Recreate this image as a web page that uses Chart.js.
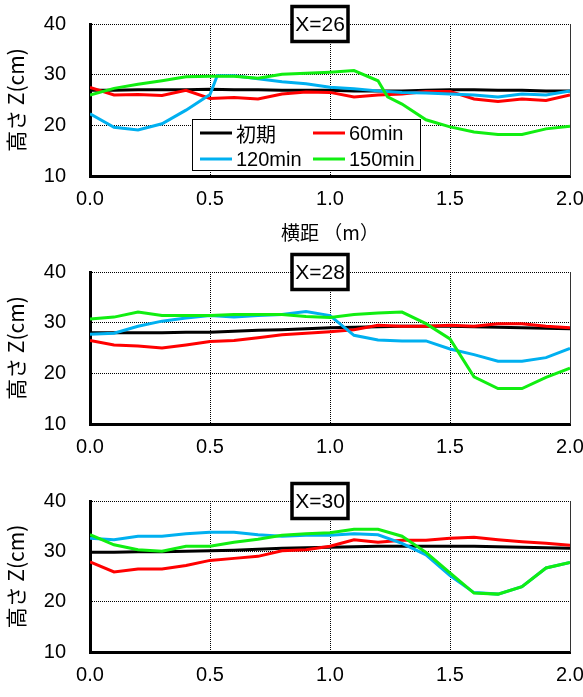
<!DOCTYPE html>
<html>
<head>
<meta charset="utf-8">
<script src="https://cdn.jsdelivr.net/npm/chart.js@4/dist/chart.umd.min.js"></script>
<style>
body { margin: 0; background: #fff; width: 583px; height: 697px; position: relative; overflow: hidden; }
canvas { position: absolute; left: 0; }
</style>
</head>
<body>
<canvas id="g26" width="583" height="245" style="top:0px"></canvas>
<canvas id="g28" width="583" height="215" style="top:245px"></canvas>
<canvas id="g30" width="583" height="237" style="top:460px"></canvas>
<script>
const nombres = ['初期', '60min', '120min', '150min']
const colores = ['#000000', '#ff0000', '#00b0f0', '#11ee11']
const xTicks = [0.0, 0.5, 1.0, 1.5, 2.0]
const zTicks = [10, 20, 30, 40]

const dist = [0.0, 0.1, 0.2, 0.3, 0.4, 0.5, 0.6, 0.7, 0.8, 0.9, 1.0, 1.1, 1.2, 1.3, 1.4, 1.5, 1.6, 1.7, 1.8, 1.9, 2.0]
const dist26_120 = [0.0, 0.1, 0.2, 0.3, 0.4, 0.5, 0.53, 0.6, 0.7, 0.8, 0.9, 1.0, 1.1, 1.2, 1.3, 1.4, 1.5, 1.6, 1.7, 1.8, 1.9, 2.0]
const dist26_150 = [0.0, 0.1, 0.2, 0.3, 0.4, 0.5, 0.6, 0.7, 0.8, 0.9, 1.0, 1.1, 1.2, 1.24, 1.3, 1.4, 1.5, 1.6, 1.7, 1.8, 1.9, 2.0]

// X=26
const z26_ini = [26.9, 26.9, 27.0, 27.0, 27.0, 27.1, 27.0, 27.0, 26.9, 26.9, 26.9, 26.8, 26.8, 26.8, 26.9, 27.0, 27.0, 26.9, 26.9, 26.8, 26.8]
const z26_60 = [27.5, 26.0, 26.1, 25.9, 26.9, 25.3, 25.5, 25.2, 26.2, 26.6, 26.5, 25.6, 26.0, 26.2, 26.7, 26.7, 25.2, 24.7, 25.2, 24.9, 26.0]
const z26_120 = [22.3, 19.6, 19.1, 20.3, 23.0, 26.1, 29.8, 29.8, 29.2, 28.6, 28.2, 27.5, 27.2, 26.8, 26.5, 26.4, 26.2, 26.0, 25.6, 26.2, 26.0, 26.8]
const z26_150 = [26.0, 27.3, 28.1, 28.8, 29.6, 29.7, 29.7, 29.3, 30.1, 30.3, 30.5, 30.8, 28.8, 25.6, 24.2, 21.1, 19.7, 18.7, 18.2, 18.2, 19.3, 19.8]

// X=28
const z28_ini = [28.0, 28.0, 28.0, 28.0, 28.1, 28.1, 28.3, 28.5, 28.6, 28.8, 29.0, 29.1, 29.2, 29.3, 29.3, 29.3, 29.2, 29.1, 29.0, 28.9, 28.8]
const z28_60 = [26.5, 25.6, 25.4, 25.0, 25.6, 26.3, 26.5, 27.0, 27.6, 27.9, 28.2, 28.6, 29.5, 29.3, 29.3, 29.5, 29.3, 29.8, 29.8, 29.3, 29.0]
const z28_120 = [27.7, 27.9, 29.3, 30.3, 30.9, 31.4, 31.1, 31.4, 31.6, 32.2, 31.4, 27.5, 26.6, 26.4, 26.4, 24.8, 23.7, 22.4, 22.4, 23.1, 24.9]
const z28_150 = [30.7, 31.1, 32.1, 31.4, 31.4, 31.4, 31.6, 31.6, 31.6, 31.2, 31.0, 31.6, 31.9, 32.1, 29.8, 26.8, 19.3, 17.0, 17.0, 19.2, 21.0]

// X=30
const z30_ini = [29.8, 29.8, 29.9, 29.9, 30.0, 30.1, 30.2, 30.4, 30.6, 30.7, 30.8, 30.9, 31.0, 31.0, 31.0, 31.0, 31.0, 30.9, 30.8, 30.7, 30.6]
const z30_60 = [27.9, 25.9, 26.5, 26.5, 27.2, 28.2, 28.6, 29.0, 30.1, 30.3, 31.0, 32.3, 31.8, 32.2, 32.2, 32.6, 32.8, 32.3, 31.9, 31.6, 31.2]
const z30_120 = [32.6, 32.3, 33.0, 33.0, 33.5, 33.8, 33.8, 33.3, 33.0, 33.2, 33.2, 33.5, 33.3, 31.6, 29.3, 25.2, 21.8, 21.5, 23.0, 26.7, 27.8]
const z30_150 = [33.3, 31.3, 30.3, 30.0, 31.0, 31.0, 31.8, 32.4, 33.2, 33.5, 33.7, 34.4, 34.4, 33.0, 29.8, 25.7, 21.7, 21.5, 23.0, 26.7, 27.8]

const fuenteNum = '"Liberation Sans", Arial, sans-serif'
const fuenteJp = '"Noto Sans CJK JP", sans-serif'

function puntos(xs, ys) {
    return xs.map((x, i) => ({ x: x, y: ys[i] }))
}

// caja del titulo "X=..", leyenda y linea derecha del marco
const marco = {
    id: 'marco',
    afterDatasetsDraw(chart, args, opts) {
        const ctx = chart.ctx
        const a = chart.chartArea
        ctx.save()
        ctx.strokeStyle = '#333'
        ctx.lineWidth = 1
        ctx.beginPath()
        ctx.moveTo(Math.round(a.right) + 0.5, a.top)
        ctx.lineTo(Math.round(a.right) + 0.5, a.bottom)
        ctx.stroke()

        if (opts.leyenda) {
            const lx = a.left + 102, ly = a.top + 95
            ctx.fillStyle = '#fff'
            ctx.fillRect(lx, ly, 228, 51)
            ctx.strokeStyle = '#000'
            ctx.lineWidth = 1
            ctx.strokeRect(lx + 0.5, ly + 0.5, 228, 51)
            ctx.textBaseline = 'middle'
            chart.data.datasets.forEach((ds, i) => {
                const col = i % 2, fila = Math.floor(i / 2)
                const x0 = lx + 8 + col * 113
                const y0 = ly + 14 + fila * 26
                ctx.strokeStyle = ds.borderColor
                ctx.lineWidth = 3
                ctx.beginPath()
                ctx.moveTo(x0, y0)
                ctx.lineTo(x0 + 32, y0)
                ctx.stroke()
                ctx.fillStyle = '#000'
                ctx.font = (i == 0 ? '20px ' + fuenteJp : '20px ' + fuenteNum)
                ctx.fillText(ds.label, x0 + 36, y0 + 1)
            })
        }

        const cx = (a.left + a.right) / 2 - 10
        const w = 56, h = 35
        ctx.fillStyle = '#fff'
        ctx.fillRect(cx - w / 2, a.top - h / 2, w, h)
        ctx.strokeStyle = '#000'
        ctx.lineWidth = 3.5
        ctx.strokeRect(cx - w / 2, a.top - h / 2, w, h)
        ctx.fillStyle = '#000'
        ctx.font = '21px ' + fuenteNum
        ctx.textAlign = 'center'
        ctx.textBaseline = 'middle'
        ctx.fillText(opts.titulo, cx, a.top + 1)
        ctx.restore()
    }
}

function grafico(id, titulo, series, padTop, altoX, conTituloX) {
    const ctx = document.getElementById(id).getContext('2d')
    return new Chart(ctx, {
        type: 'line',
        data: {
            datasets: series.map((s, i) => ({
                label: nombres[i],
                data: s,
                borderColor: colores[i],
                backgroundColor: colores[i],
                borderWidth: 3,
                pointRadius: 0,
                tension: 0,
                order: 3 - i
            }))
        },
        options: {
            responsive: false,
            animation: false,
            devicePixelRatio: 1,
            layout: { padding: { top: padTop, right: 13, left: 0, bottom: 0 } },
            plugins: {
                legend: { display: false },
                tooltip: { enabled: false },
                marco: { titulo: titulo, leyenda: conTituloX }
            },
            scales: {
                x: {
                    type: 'linear',
                    min: 0,
                    max: 2,
                    afterBuildTicks: s => { s.ticks = xTicks.map(v => ({ value: v })) },
                    afterFit: s => { s.height = altoX; s.paddingLeft = 0; s.paddingRight = 0 },
                    ticks: {
                        color: '#000',
                        padding: 11,
                        maxRotation: 0,
                        font: { family: fuenteNum, size: 20 },
                        callback: v => v.toFixed(1)
                    },
                    grid: { color: '#000', drawTicks: false, lineWidth: 1 },
                    border: { display: true, color: '#000', width: 3, dash: [1, 1] },
                    title: {
                        display: conTituloX,
                        text: '横距 （m）',
                        color: '#000',
                        font: { family: fuenteJp, size: 19 },
                        padding: { top: 0, bottom: 1 }
                    }
                },
                y: {
                    min: 10,
                    max: 40,
                    afterBuildTicks: s => { s.ticks = zTicks.map(v => ({ value: v })) },
                    afterFit: s => { s.width = 90; s.paddingTop = 0; s.paddingBottom = 0 },
                    ticks: {
                        color: '#000',
                        padding: 24,
                        font: { family: fuenteNum, size: 20 }
                    },
                    grid: { color: '#000', drawTicks: false, lineWidth: 1 },
                    border: { display: true, color: '#000', width: 3, dash: [1, 1] },
                    title: {
                        display: true,
                        text: '高さ Z(cm)',
                        color: '#000',
                        font: { family: fuenteJp, size: 21 },
                        padding: { top: 3, bottom: 0 }
                    }
                }
            }
        },
        plugins: [marco]
    })
}

grafico('g26', 'X=26', [puntos(dist, z26_ini), puntos(dist, z26_60), puntos(dist26_120, z26_120), puntos(dist26_150, z26_150)], 24, 69, true)
grafico('g28', 'X=28', [puntos(dist, z28_ini), puntos(dist, z28_60), puntos(dist, z28_120), puntos(dist, z28_150)], 27, 36, false)
grafico('g30', 'X=30', [puntos(dist, z30_ini), puntos(dist, z30_60), puntos(dist, z30_120), puntos(dist, z30_150)], 41, 45, false)
</script>
</body>
</html>
